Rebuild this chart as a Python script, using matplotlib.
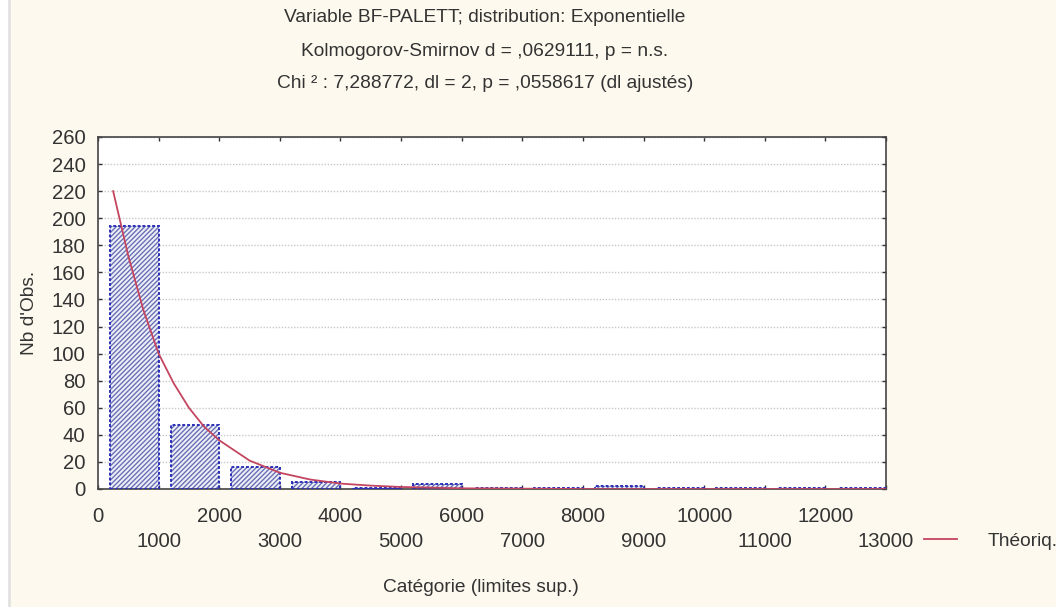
import numpy as np
import matplotlib.pyplot as plt
from matplotlib.lines import Line2D
from matplotlib.patches import Rectangle

plt.rcParams['font.family'] = ['Liberation Sans Narrow', 'Liberation Sans', 'DejaVu Sans']
plt.rcParams['hatch.linewidth'] = 1.0

# observed counts per class (upper limits of the classes)
upper_limits = [1000, 2000, 3000, 4000, 5000, 6000, 7000, 8000, 9000, 10000, 11000, 12000, 13000]
counts = [194, 47, 16, 5, 1, 4, 1, 1, 2, 1, 1, 1, 1]

# theoretical exponential curve, read point by point
theo_x = [250, 500, 750, 1000, 1250, 1500, 1750, 2000, 2500, 3000, 3500, 4000, 4500, 5000, 6000, 8000, 13000]
theo_y = [220, 172, 132, 100, 78, 60, 46, 36, 21, 12, 7, 4, 2.5, 1.5, 0.5, 0, 0]

title_lines = ["Variable BF-PALETT; distribution: Exponentielle",
               "Kolmogorov-Smirnov d = ,0629111, p = n.s.",
               "Chi \u00b2 : 7,288772, dl = 2, p = ,0558617 (dl ajust\u00e9s)"]

W, H = 1056, 607
bg = '#fdf9ee'
fig = plt.figure(figsize=(W / 100, H / 100), dpi=100, facecolor=bg)
fig.add_artist(Rectangle((0, 0), 7 / W, 1, transform=fig.transFigure, color='white', zorder=0))
fig.add_artist(Line2D([9 / W, 9 / W], [0, 1], transform=fig.transFigure, color='#e2e2e2', lw=2))

ax = fig.add_axes([98 / W, 1 - 489 / H, 788 / W, 352 / H])
ax.set_facecolor('white')

bar_w = 800
lefts = [u - bar_w for u in upper_limits]
ax.bar(lefts, counts, width=bar_w, align='edge', facecolor='#eef0f8',
       edgecolor='#6a70b4', hatch='///////', linewidth=0, zorder=2)
ax.bar(lefts, counts, width=bar_w, align='edge', facecolor='none',
       edgecolor='#2b2fb8', linewidth=1.4, linestyle=(0, (1.5, 1)), zorder=3)

ax.plot(theo_x, theo_y, color='#c4455f', lw=1.3, zorder=4, label='Th\u00e9oriq.')

ax.set_xlim(0, 13000)
ax.set_ylim(0, 260)
ax.set_yticks(np.arange(0, 261, 20))
xt = np.arange(0, 13001, 1000)
ax.set_xticks(xt)
ax.set_xticklabels([str(v) if i % 2 == 0 else '\n' + str(v) for i, v in enumerate(xt)])
for lbl in ax.get_xticklabels():
    lbl.set_linespacing(1.4)
ax.yaxis.grid(True, color='#c8c8c8', linestyle=(0, (1, 1.2)), lw=1)
ax.set_axisbelow(True)
ax.tick_params(direction='in', length=3, width=1, top=True, right=True, labelsize=14.6,
               colors='#333333', labelcolor='#333333')
ax.tick_params(axis='y', pad=9)
ax.tick_params(axis='x', pad=13)
for s in ax.spines.values():
    s.set_color('#444444')
    s.set_linewidth(1.2)

for i, t in enumerate(title_lines):
    fig.text(485 / W, 1 - (18 + 33 * i) / H, t, ha='center', va='center', fontsize=13.8, color='#333333')

fig.text(481 / W, 1 - 587 / H, 'Cat\u00e9gorie (limites sup.)', ha='center', va='center',
         fontsize=13.8, color='#333333')
fig.text(30 / W, 1 - 313 / H, "Nb d'Obs.", ha='center', va='center', rotation=90,
         fontsize=13.8, color='#333333')

fig.legend(loc='center left', bbox_to_anchor=(907 / W, 1 - 541 / H), frameon=False,
           fontsize=13.8, handlelength=1.7, handletextpad=1.6, labelcolor='#333333')

fig.savefig('out.png', dpi=100, facecolor=bg)
